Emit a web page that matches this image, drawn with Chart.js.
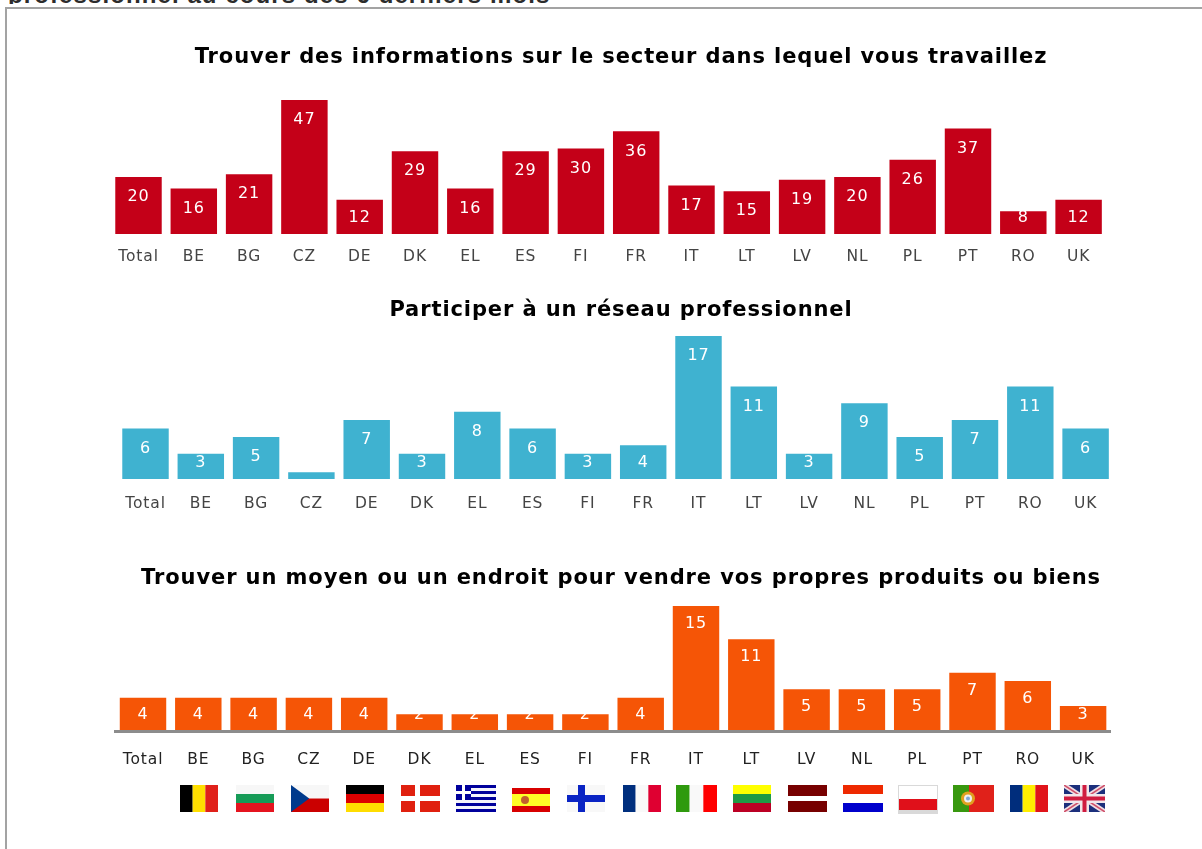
<!DOCTYPE html>
<html lang="fr">
<head>
<meta charset="utf-8">
<title>Activités en ligne</title>
<script src="https://cdn.jsdelivr.net/npm/chart.js@4/dist/chart.umd.min.js"></script>
<style>
    html, body { margin: 0; padding: 0; background: #fff; overflow: hidden; }
    body { width: 1202px; height: 849px; position: relative; }
    canvas { position: absolute; left: 40px; }
    #frame { position: absolute; left: 5px; top: 7px; width: 1197px; height: 842px; border-left: 2px solid #a3a3a3; border-top: 2px solid #a3a3a3; box-sizing: border-box; }
    #cutHeading { position: absolute; left: 0; top: 0; width: 700px; height: 4px; overflow: hidden; opacity: 0.99; }
    #cutHeading span { position: absolute; left: 8px; top: -17px; font: bold 24px/24px "Liberation Sans", sans-serif; letter-spacing: 1.1px; color: #2a2a2a; white-space: nowrap; }
</style>
</head>
<body>
<div id="cutHeading"><span>professionnel au cours des 6 derniers mois</span></div>
<div id="frame"></div>
<canvas id="chartInfo"></canvas>
<canvas id="chartReseau"></canvas>
<canvas id="chartVente"></canvas>

<script>
// categories, same order in all three panels
const categoriesInfo = ['Total', 'BE', 'BG', 'CZ', 'DE', 'DK', 'EL', 'ES', 'FI', 'FR', 'IT', 'LT', 'LV', 'NL', 'PL', 'PT', 'RO', 'UK'];
const categoriesReseau = categoriesInfo;
const categoriesVente = categoriesInfo;

// values
const valuesInfo = [20, 16, 21, 47, 12, 29, 16, 29, 30, 36, 17, 15, 19, 20, 26, 37, 8, 12];
const valuesReseau = [6, 3, 5, 0.8, 7, 3, 8, 6, 3, 4, 17, 11, 3, 9, 5, 7, 11, 6];
const valuesVente = [4, 4, 4, 4, 4, 2, 2, 2, 2, 4, 15, 11, 5, 5, 5, 7, 6, 3];

const titleInfo = 'Trouver des informations sur le secteur dans lequel vous travaillez';
const titleReseau = 'Participer à un réseau professionnel';
const titleVente = 'Trouver un moyen ou un endroit pour vendre vos propres produits ou biens';

const CANVAS_LEFT = 40;
const CANVAS_WIDTH = 1162;
const STEP_AREA = 995.4; // width of the 18 categories

// the reference text is set wider than DejaVu, so open it up everywhere
const wideText = {
    id: 'wideText',
    beforeDraw(chart) {
        chart.ctx.letterSpacing = '0.9px';
    }
};

// white value inside the bar, hidden on very small bars
const valueLabels = {
    id: 'valueLabels',
    afterDatasetsDraw(chart, args, opts) {
        const ctx = chart.ctx;
        const values = chart.data.datasets[0].data;
        ctx.save();
        ctx.fillStyle = '#fff';
        ctx.font = '16px "DejaVu Sans"';
        ctx.textAlign = 'center';
        ctx.textBaseline = 'middle';
        chart.getDatasetMeta(0).data.forEach((bar, i) => {
            if (values[i] < 1) return;
            ctx.fillText(values[i], bar.x, Math.min(bar.y + opts.offset, bar.base - opts.minBase));
        });
        ctx.restore();
    }
};

function stripesV(ctx, x, y, w, h, colors) {
    colors.forEach((c, i) => {
        ctx.fillStyle = c;
        ctx.fillRect(x + i * w / colors.length, y, w / colors.length, h);
    });
}

function stripesH(ctx, x, y, w, h, colors) {
    colors.forEach((c, i) => {
        ctx.fillStyle = c;
        ctx.fillRect(x, y + i * h / colors.length, w, h / colors.length);
    });
}

function lineBetween(ctx, x1, y1, x2, y2, color, width) {
    ctx.strokeStyle = color;
    ctx.lineWidth = width;
    ctx.beginPath();
    ctx.moveTo(x1, y1);
    ctx.lineTo(x2, y2);
    ctx.stroke();
}

// one small painter per country code
const flagPainters = {
    BE: (c, x, y, w, h) => stripesV(c, x, y, w, h, ['#000000', '#ffdf00', '#e0211a']),
    BG: (c, x, y, w, h) => stripesH(c, x, y, w, h, ['#f7f7f7', '#169b57', '#e5141f']),
    CZ: (c, x, y, w, h) => {
        stripesH(c, x, y, w, h, ['#f7f7f7', '#cb0000']);
        c.fillStyle = '#003a8c';
        c.beginPath();
        c.moveTo(x, y);
        c.lineTo(x + w * 0.48, y + h / 2);
        c.lineTo(x, y + h);
        c.fill();
    },
    DE: (c, x, y, w, h) => stripesH(c, x, y, w, h, ['#000000', '#dd0000', '#ffdd00']),
    DK: (c, x, y, w, h) => {
        c.fillStyle = '#e0200f';
        c.fillRect(x, y, w, h);
        c.fillStyle = '#fff';
        c.fillRect(x + 14, y, 5, h);
        c.fillRect(x, y + 11, w, 5);
    },
    EL: (c, x, y, w, h) => {
        stripesH(c, x, y, w, h, ['#00009c', '#f4f4fb', '#00009c', '#f4f4fb', '#00009c', '#f4f4fb', '#00009c', '#f4f4fb', '#00009c']);
        c.fillStyle = '#00009c';
        c.fillRect(x, y, 15, 15);
        c.fillStyle = '#fff';
        c.fillRect(x + 6, y, 3, 15);
        c.fillRect(x, y + 6, 15, 3);
    },
    ES: (c, x, y, w, h) => {
        c.fillStyle = '#d80000';
        c.fillRect(x, y + 3, w, h - 3);
        c.fillStyle = '#ffff26';
        c.fillRect(x, y + 9, w, 12);
        c.fillStyle = '#c2602c';
        c.beginPath();
        c.arc(x + 13, y + 15, 4, 0, Math.PI * 2);
        c.fill();
    },
    FI: (c, x, y, w, h) => {
        c.fillStyle = '#f8f8f8';
        c.fillRect(x, y, w, h);
        c.fillStyle = '#0a24c4';
        c.fillRect(x + 11, y, 7, h);
        c.fillRect(x, y + 10, w, 7);
    },
    FR: (c, x, y, w, h) => stripesV(c, x, y, w, h, ['#002f7e', '#f9f9f9', '#df0031']),
    IT: (c, x, y, w, h) => stripesV(c, x, y, w, h, ['#2f9a0e', '#f9f9f9', '#ff0000']),
    LT: (c, x, y, w, h) => stripesH(c, x, y, w, h, ['#ffff00', '#1f9a45', '#bc0024']),
    LV: (c, x, y, w, h) => {
        c.fillStyle = '#770000';
        c.fillRect(x, y, w, h);
        c.fillStyle = '#fff';
        c.fillRect(x, y + 11, w, 5);
    },
    NL: (c, x, y, w, h) => stripesH(c, x, y, w, h, ['#ee2900', '#ffffff', '#0000cc']),
    PL: (c, x, y, w, h) => {
        c.fillStyle = '#d9d9d9';
        c.fillRect(x, y, w, h + 2);
        c.fillStyle = '#fff';
        c.fillRect(x + 1, y + 1, w - 2, 13);
        c.fillStyle = '#e0101a';
        c.fillRect(x + 1, y + 14, w - 2, 11);
    },
    PT: (c, x, y, w, h) => {
        c.fillStyle = '#e0211a';
        c.fillRect(x, y, w, h);
        c.fillStyle = '#38980f';
        c.fillRect(x, y, 16, h);
        c.fillStyle = '#e0a020';
        c.beginPath();
        c.arc(x + 15, y + 13.5, 7, 0, Math.PI * 2);
        c.fill();
        c.fillStyle = '#f0f0f0';
        c.beginPath();
        c.arc(x + 15, y + 13.5, 4, 0, Math.PI * 2);
        c.fill();
        c.fillStyle = '#7fa8d8';
        c.beginPath();
        c.arc(x + 15, y + 13.5, 2, 0, Math.PI * 2);
        c.fill();
    },
    RO: (c, x, y, w, h) => stripesV(c, x, y, w, h, ['#002d7c', '#ffee00', '#e0141a']),
    UK: (c, x, y, w, h) => {
        c.fillStyle = '#1c2f7c';
        c.fillRect(x, y, w, h);
        c.save();
        c.beginPath();
        c.rect(x, y, w, h);
        c.clip();
        lineBetween(c, x, y, x + w, y + h, '#f0dfe4', 5);
        lineBetween(c, x + w, y, x, y + h, '#f0dfe4', 5);
        lineBetween(c, x, y, x + w, y + h, '#d0506a', 1.5);
        lineBetween(c, x + w, y, x, y + h, '#d0506a', 1.5);
        c.restore();
        c.fillStyle = '#f2e6ea';
        c.fillRect(x + w / 2 - 4.5, y, 9, h);
        c.fillRect(x, y + h / 2 - 4.5, w, 9);
        c.fillStyle = '#d01c40';
        c.fillRect(x + w / 2 - 2, y, 4, h);
        c.fillRect(x, y + h / 2 - 2, w, 4);
    }
};

const flagWidths = { DK: 39, EL: 40, IT: 41, LV: 39, NL: 40, PL: 40, PT: 41, UK: 41 };

const flagRow = {
    id: 'flagRow',
    afterDraw(chart) {
        const scale = chart.scales.x;
        const top = 785 - chart.canvas.offsetTop;
        chart.data.labels.forEach((code, i) => {
            const paint = flagPainters[code];
            if (!paint) return;
            const w = flagWidths[code] || 38;
            paint(chart.ctx, Math.round(scale.getPixelForValue(i) + 1 - w / 2), top, w, 27);
        });
    }
};

function drawPanel(id, cfg) {
    const canvas = document.getElementById(id);
    canvas.style.top = cfg.top + 'px';
    canvas.width = CANVAS_WIDTH;
    canvas.height = cfg.bottom - cfg.top;
    const hiddenAxis = (position, width) => ({
        type: 'linear',
        position: position,
        min: 0,
        max: cfg.max,
        ticks: { display: false },
        grid: { display: false },
        border: { display: false },
        afterFit: (s) => { s.width = width; }
    });
    return new Chart(canvas, {
        type: 'bar',
        data: {
            labels: cfg.labels,
            datasets: [{ data: cfg.values, backgroundColor: cfg.color, barPercentage: 0.84, categoryPercentage: 1, yAxisID: 'y' }]
        },
        plugins: [wideText].concat(cfg.plugins),
        options: {
            responsive: false,
            animation: false,
            layout: { padding: 0 },
            plugins: {
                legend: { display: false },
                tooltip: { enabled: false },
                title: {
                    display: true,
                    text: cfg.title,
                    color: '#000',
                    font: { family: '"DejaVu Sans"', size: 21, weight: 'bold', lineHeight: 1.2 },
                    padding: { top: cfg.titleTop, bottom: cfg.titleBottom }
                },
                valueLabels: { offset: cfg.labelOffset, minBase: 16 }
            },
            scales: {
                x: {
                    type: 'category',
                    offset: true,
                    grid: { display: false, drawTicks: false },
                    border: cfg.axisLine ? { display: true, width: 3, color: '#8c8c8c', z: 1 } : { display: false },
                    ticks: {
                        autoSkip: false,
                        maxRotation: 0,
                        padding: cfg.tickPadding,
                        color: cfg.tickColor,
                        font: { family: '"DejaVu Sans"', size: 15.5 }
                    },
                    afterFit: (s) => { s.height = cfg.bottom - cfg.areaBottom; }
                },
                y: hiddenAxis('left', cfg.areaLeft - CANVAS_LEFT),
                yr: hiddenAxis('right', CANVAS_LEFT + CANVAS_WIDTH - cfg.areaLeft - STEP_AREA)
            }
        }
    });
}

window.onload = () => {
    drawPanel('chartInfo', {
        labels: categoriesInfo, values: valuesInfo, title: titleInfo, color: '#c40018', plugins: [valueLabels],
        top: 30, bottom: 274, areaBottom: 234, areaLeft: 110.85, max: 47,
        titleTop: 15.4, titleBottom: 29.4, tickPadding: 14, tickColor: '#444', labelOffset: 20
    });
    drawPanel('chartReseau', {
        labels: categoriesReseau, values: valuesReseau, title: titleReseau, color: '#3fb2d0', plugins: [valueLabels],
        top: 290, bottom: 519, areaBottom: 479, areaLeft: 117.85, max: 17,
        titleTop: 8.4, titleBottom: 12.4, tickPadding: 16, tickColor: '#444', labelOffset: 20
    });
    drawPanel('chartVente', {
        labels: categoriesVente, values: valuesVente, title: titleVente, color: '#f55506', plugins: [valueLabels, flagRow],
        top: 550, bottom: 849, areaBottom: 731, areaLeft: 115.35, max: 15,
        titleTop: 16.4, titleBottom: 14.4, tickPadding: 20, tickColor: '#222', labelOffset: 18, axisLine: true
    });
};
</script>
</body>
</html>
